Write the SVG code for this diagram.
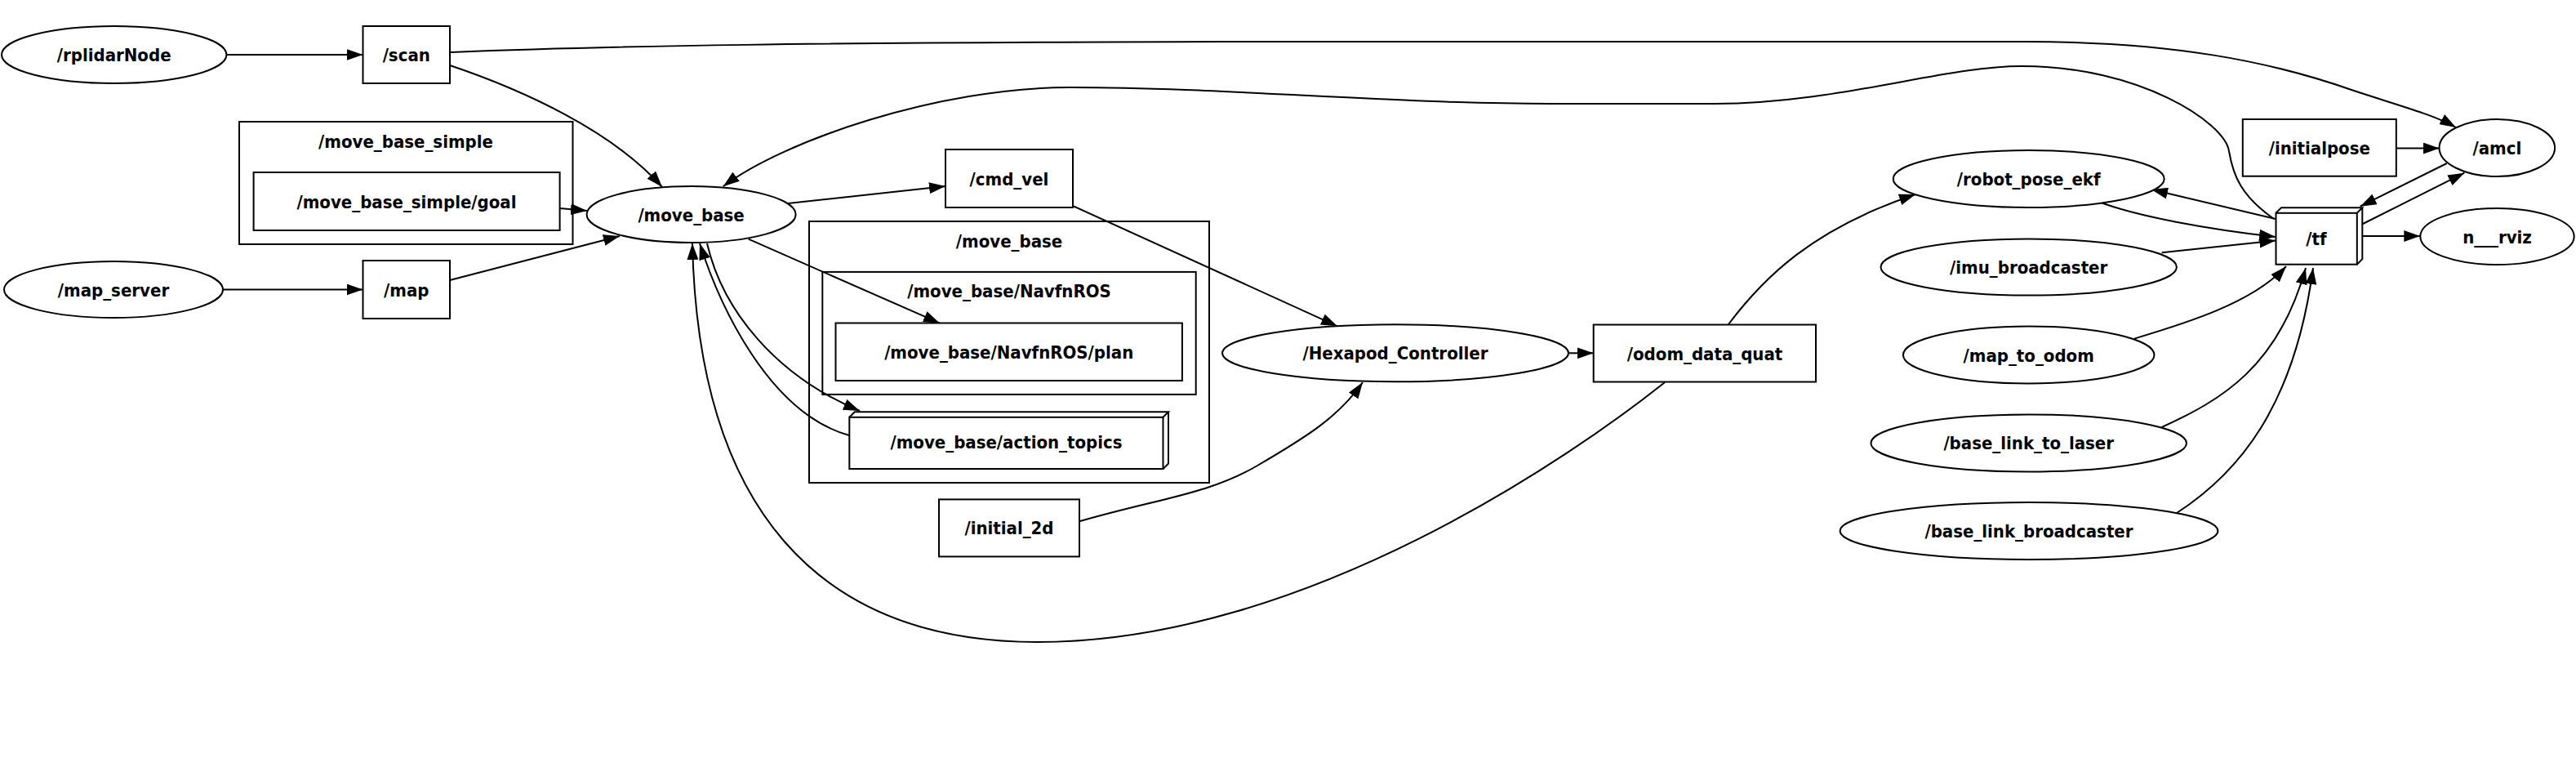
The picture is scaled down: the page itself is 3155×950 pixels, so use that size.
<svg xmlns="http://www.w3.org/2000/svg" width="3155" height="950" viewBox="0 0 3155 950">
<style>
text{font-family:"DejaVu Sans Condensed","DejaVu Sans","Liberation Sans",sans-serif;font-stretch:condensed;font-weight:bold;font-size:22px;text-anchor:middle;fill:#000}
.n{fill:#fff;stroke:#000;stroke-width:2}
.c{fill:none;stroke:#000;stroke-width:2}
.e{fill:none;stroke:#000;stroke-width:2;marker-end:url(#ah)}
.b{fill:none;stroke:#000;stroke-width:2}
</style>
<defs>
<marker id="ah" viewBox="0 0 20 14" refX="20" refY="7" markerWidth="20" markerHeight="14" markerUnits="userSpaceOnUse" orient="auto">
<path d="M0,0 L20,7 L0,14 z" fill="#000"/>
</marker>
</defs>
<rect width="3155" height="950" fill="#fff"/>
<g id="clusters">
<g id="cluster_move_base_simple"><rect class="c" x="293" y="149" width="408.5" height="150"/><text x="497" y="181">/move_base_simple</text></g>
<g id="cluster_move_base"><rect class="c" x="991" y="271" width="490" height="320"/><text x="1236" y="302.6">/move_base</text></g>
<g id="cluster_navfn"><rect class="c" x="1007.3" y="332.9" width="457.4" height="150"/><text x="1236" y="364.4">/move_base/NavfnROS</text></g>
</g>
<g id="edges">
<path id="e1" class="e" d="M277.4,67 L444.5,67"/>
<path id="e2" class="e" d="M551,80 C640,110 750,160 811,229"/>
<path id="e3" class="e" d="M552,64 C750,56 1000,52 1500,51 L2480,51 C2660,51 2780,75 2880,110 C2940,130 2980,140 3008,156"/>
<path id="e4" class="e" d="M685.6,255 L719,258"/>
<path id="e5" class="e" d="M273,354.5 L444.5,354.5"/>
<path id="e6" class="e" d="M551,343 L759,289"/>
<path id="e7" class="e" d="M965,249 L1158,228"/>
<path id="e8" class="e" d="M916.7,292.7 L1151,395.7"/>
<path id="e9" class="e" d="M866,298 C885,380 950,460 1053,503"/>
<path id="e10" class="e" d="M1040,533 C940,505 880,370 857,298"/>
<path id="e11" class="e" d="M2039,468 C1930,555 1600,786 1271,786 C1000,786 855,620 848,298"/>
<path id="e12" class="e" d="M2785,268 C2745,240 2735,215 2730,185 C2725,150 2620,81 2476,81 C2380,81 2250,127 2100,127 L1900,127 C1700,127 1500,107 1310,107 C1150,107 960,172 885.7,228.3"/>
<path id="e13" class="e" d="M1315,252.5 L1638,399.3"/>
<path id="e14" class="e" d="M1323,638 C1420,610 1480,605 1540,570 C1600,535 1640,510 1669,468"/>
<path id="e15" class="e" d="M1921.7,432.3 L1951.7,432.3"/>
<path id="e16" class="e" d="M2117,397 C2160,340 2220,280 2346,238"/>
<path id="e17" class="e" d="M2574.5,248.5 C2620,265 2700,280 2787,290"/>
<path id="e18" class="e" d="M2787,268 L2635,232"/>
<path id="e19" class="e" d="M2647.6,309.3 L2787.3,294.5"/>
<path id="e20" class="e" d="M2614,414.6 C2680,395 2760,370 2800,326"/>
<path id="e21" class="e" d="M2647.6,523 C2720,490 2790,450 2824,328"/>
<path id="e22" class="e" d="M2666,628 C2740,580 2810,500 2833,328"/>
<path id="e23" class="e" d="M2935,181.5 L2987.7,181.5"/>
<path id="e24" class="e" d="M2996.7,200 L2890.7,252.7"/>
<path id="e25" class="e" d="M2894,274 L3018.3,211.7"/>
<path id="e26" class="e" d="M2894,289 L2964.3,289"/>
</g>
<g id="nodes">
<g id="n_rplidarNode"><ellipse class="n" cx="139.7" cy="67" rx="137.7" ry="35"/><text x="139.7" y="75">/rplidarNode</text></g>
<g id="n_scan"><rect class="n" x="444.5" y="32" width="106.5" height="70"/><text x="497.75" y="75">/scan</text></g>
<g id="n_goal"><rect class="n" x="310.6" y="211" width="375" height="71"/><text x="498" y="254.5">/move_base_simple/goal</text></g>
<g id="n_move_base"><ellipse class="n" cx="846.6" cy="262.5" rx="128" ry="34.5"/><text x="846.6" y="270.5">/move_base</text></g>
<g id="n_map_server"><ellipse class="n" cx="139" cy="354.5" rx="134" ry="34.5"/><text x="139" y="362.5">/map_server</text></g>
<g id="n_map"><rect class="n" x="444.5" y="319" width="106.5" height="71"/><text x="497.75" y="362.5">/map</text></g>
<g id="n_cmd_vel"><rect class="n" x="1158" y="183" width="156" height="71"/><text x="1236" y="226.5">/cmd_vel</text></g>
<g id="n_plan"><rect class="n" x="1023.5" y="395.5" width="424.4" height="70.5"/><text x="1235.7" y="438.7">/move_base/NavfnROS/plan</text></g>
<g id="n_action_topics">
<rect class="n" x="1040.3" y="510.8" width="384.2" height="63.2"/>
<path class="b" d="M1040.3,510.8 L1046.8,504.3 L1431,504.3 L1424.5,510.8 M1424.5,574 L1431,567.5 L1431,504.3"/>
<text x="1232.5" y="549">/move_base/action_topics</text></g>
<g id="n_hexapod"><ellipse class="n" cx="1709" cy="432.3" rx="212" ry="35"/><text x="1709" y="440.3">/Hexapod_Controller</text></g>
<g id="n_initial_2d"><rect class="n" x="1150" y="611.4" width="172" height="70"/><text x="1236" y="654.4">/initial_2d</text></g>
<g id="n_odom"><rect class="n" x="1951.7" y="397.5" width="272.3" height="70"/><text x="2088" y="440.5">/odom_data_quat</text></g>
<g id="n_robot_pose_ekf"><ellipse class="n" cx="2484.7" cy="219" rx="166" ry="35"/><text x="2484.7" y="227">/robot_pose_ekf</text></g>
<g id="n_imu"><ellipse class="n" cx="2484.7" cy="327" rx="181.2" ry="34.6"/><text x="2484.7" y="335">/imu_broadcaster</text></g>
<g id="n_map_to_odom"><ellipse class="n" cx="2484.7" cy="434.5" rx="153.8" ry="35"/><text x="2484.7" y="442.5">/map_to_odom</text></g>
<g id="n_base_link_to_laser"><ellipse class="n" cx="2484.7" cy="542.4" rx="193.3" ry="35"/><text x="2484.7" y="550.4">/base_link_to_laser</text></g>
<g id="n_base_link_broadcaster"><ellipse class="n" cx="2485" cy="650" rx="231.4" ry="35"/><text x="2485" y="658">/base_link_broadcaster</text></g>
<g id="n_tf">
<rect class="n" x="2787.5" y="260.8" width="99.3" height="62.9"/>
<path class="b" d="M2787.5,260.8 L2794,254.3 L2893.3,254.3 L2886.8,260.8 M2886.8,323.7 L2893.3,317.2 L2893.3,254.3"/>
<text x="2837" y="300">/tf</text></g>
<g id="n_initialpose"><rect class="n" x="2746.8" y="146" width="188" height="69.7"/><text x="2840.8" y="189">/initialpose</text></g>
<g id="n_amcl"><ellipse class="n" cx="3058.3" cy="181" rx="70.8" ry="35"/><text x="3058.3" y="189">/amcl</text></g>
<g id="n_rviz"><ellipse class="n" cx="3058.5" cy="289.5" rx="94.2" ry="34.5"/><text x="3058.5" y="297.5">n___rviz</text></g>
</g>
</svg>
